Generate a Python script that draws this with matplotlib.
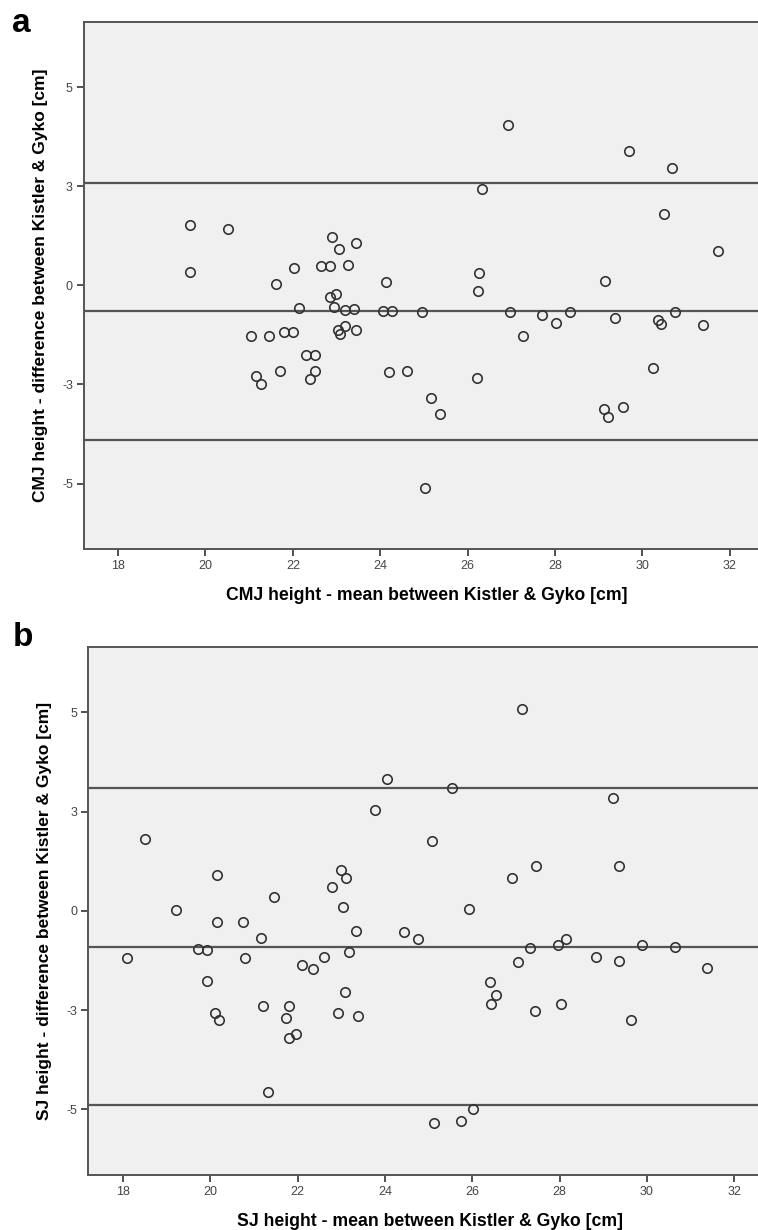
import numpy as np
import matplotlib
matplotlib.use('Agg')
import matplotlib.pyplot as plt

plt.rcParams['font.family'] = ['Liberation Sans', 'DejaVu Sans']

# CMJ: mean (x) and difference (y) between Kistler & Gyko
cmj_mean = [19.65, 20.51, 19.65, 21.61, 22.02, 22.64, 22.86, 23.26, 22.90, 23.06,
            23.44, 22.99, 22.84, 26.92, 29.70, 30.68, 26.32, 30.49, 31.72, 24.13,
            26.25, 26.23, 29.15, 22.13, 22.94, 23.19, 23.40, 24.06, 24.28, 24.95,
            26.96, 27.70, 28.02, 28.35, 27.26, 29.37, 30.35, 30.42, 30.75, 31.39,
            21.05, 21.45, 21.80, 22.01, 23.03, 23.08, 23.19, 23.44, 22.30, 22.51,
            21.16, 21.26, 21.71, 22.51, 22.40, 24.20, 24.61, 26.22, 30.25, 25.16,
            25.36, 29.13, 29.22, 29.56, 25.03]
cmj_diff = [1.51, 1.42, 0.33, 0.03, 0.45, 0.49, 0.50, 0.52, 1.23, 0.92,
            1.06, -0.21, -0.30, 4.05, 3.39, 2.95, 2.44, 1.81, 0.86, 0.08,
            0.30, -0.13, 0.10, -0.56, -0.54, -0.62, -0.60, -0.65, -0.64, -0.68,
            -0.66, -0.76, -0.95, -0.67, -1.27, -0.83, -0.87, -0.97, -0.68, -0.99,
            -1.28, -1.28, -1.17, -1.17, -1.13, -1.23, -1.03, -1.12, -1.76, -1.76,
            -2.28, -2.48, -2.17, -2.15, -2.37, -2.18, -2.17, -2.33, -2.09, -2.85,
            -3.24, -3.13, -3.33, -3.06, -5.12]
cmj_lines = [2.59, -0.65, -3.89]   # upper LoA, mean bias, lower LoA

# SJ: mean (x) and difference (y) between Kistler & Gyko
sj_mean = [18.50, 20.15, 23.77, 22.99, 23.11, 22.79, 21.46, 27.14, 24.05, 25.54,
           29.23, 25.07, 26.91, 27.46, 29.36, 19.21, 23.05, 20.15, 20.75, 23.34,
           21.15, 18.09, 19.71, 19.92, 20.80, 22.61, 23.18, 22.11, 22.35, 19.92,
           23.08, 21.20, 21.80, 20.11, 20.21, 21.74, 22.92, 23.38, 21.96, 21.80,
           21.31, 25.92, 24.43, 24.75, 27.33, 27.97, 28.15, 29.88, 30.64, 27.05,
           28.83, 29.37, 31.38, 26.40, 26.55, 26.44, 27.43, 28.03, 29.64, 26.01,
           25.13, 25.74]
sj_diff = [1.82, 0.91, 2.55, 1.02, 0.83, 0.61, 0.34, 5.08, 3.32, 3.09,
           2.85, 1.75, 0.82, 1.12, 1.12, 0.03, 0.10, -0.29, -0.29, -0.50,
           -0.69, -1.18, -0.97, -0.98, -1.19, -1.15, -1.03, -1.36, -1.46, -1.76,
           -2.05, -2.39, -2.40, -2.57, -2.76, -2.69, -2.58, -2.65, -3.09, -3.19,
           -4.56, 0.05, -0.53, -0.71, -0.94, -0.85, -0.72, -0.85, -0.92, -1.30,
           -1.15, -1.27, -1.44, -1.80, -2.11, -2.34, -2.53, -2.35, -2.75, -4.98,
           -5.34, -5.29]
sj_lines = [3.10, -0.90, -4.90]

x_ticks = [18, 20, 22, 24, 26, 28, 30, 32]
y_ticks = [5, 2.5, 0, -2.5, -5]
y_tick_labels = ['5', '3', '0', '-3', '-5']

W, H = 758, 1230
fig = plt.figure(figsize=(W / 100, H / 100), dpi=100)


def bland_altman(rect, xs, ys, lines, xlim, xlabel, ylabel):
    ax = fig.add_axes(rect)
    ax.set_facecolor('#f0f0f0')
    for val in lines:
        ax.axhline(val, color='#555555', linewidth=1.6, zorder=1)
    ax.plot(xs, ys, 'o', markersize=6.8, markerfacecolor='none',
            markeredgecolor='#333333', markeredgewidth=1.2, zorder=2)
    ax.set_xlim(*xlim)
    ax.set_ylim(-6.65, 6.65)
    ax.set_xticks(x_ticks)
    ax.set_yticks(y_ticks)
    ax.set_yticklabels(y_tick_labels)
    ax.tick_params(direction='out', length=5, width=1.2, color='#333333',
                   labelsize=9, labelcolor='#444444', pad=3)
    for sp in ax.spines.values():
        sp.set_color('#555555')
        sp.set_linewidth(1.4)
    ax.set_xlabel(xlabel, fontsize=12.7, fontweight='bold', labelpad=11)
    ax.set_ylabel(ylabel, fontsize=12.5, fontweight='bold', labelpad=10)
    return ax


def rect_px(left, top, right, bottom):
    return [left / W, 1 - bottom / H, (right - left) / W, (bottom - top) / H]


# panel a
xa_l = 17.22
xa_r = 18 + (770 - 118) / 43.7
bland_altman(rect_px(84, 21.7, 770, 549), cmj_mean, cmj_diff, cmj_lines,
             (xa_l, xa_r),
             'CMJ height - mean between Kistler & Gyko [cm]',
             'CMJ height - difference between Kistler & Gyko [cm]')

# panel b
xb_l = 17.205
xb_r = 18 + (772 - 123) / 43.66
bland_altman(rect_px(88.3, 646.7, 772, 1175), sj_mean, sj_diff, sj_lines,
             (xb_l, xb_r),
             'SJ height - mean between Kistler & Gyko [cm]',
             'SJ height - difference between Kistler & Gyko [cm]')

fig.text(12 / W, 1 - 24 / H, 'a', fontsize=24, fontweight='bold', va='center', ha='left')
fig.text(13 / W, 1 - 638 / H, 'b', fontsize=24, fontweight='bold', va='center', ha='left')

fig.savefig('out.png', dpi=100)
